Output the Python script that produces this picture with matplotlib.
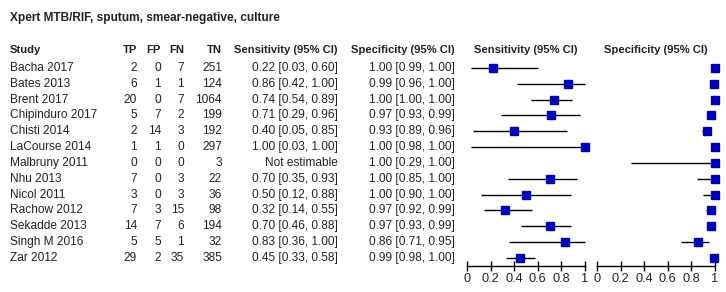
import matplotlib
matplotlib.use("Agg")
import matplotlib.pyplot as plt
import matplotlib.transforms as mtransforms
import numpy as np

title = "Xpert MTB/RIF, sputum, smear-negative, culture"
studies = ["Bacha 2017", "Bates 2013", "Brent 2017", "Chipinduro 2017", "Chisti 2014",
           "LaCourse 2014", "Malbruny 2011", "Nhu 2013", "Nicol 2011", "Rachow 2012",
           "Sekadde 2013", "Singh M 2016", "Zar 2012"]
tp = [2, 6, 20, 5, 2, 1, 0, 7, 3, 7, 14, 5, 29]
fp = [0, 1, 0, 7, 14, 1, 0, 0, 0, 3, 7, 5, 2]
fn = [7, 1, 7, 2, 3, 0, 0, 3, 3, 15, 6, 1, 35]
tn = [251, 124, 1064, 199, 192, 297, 3, 22, 36, 98, 194, 32, 385]
sens = [0.22, 0.86, 0.74, 0.71, 0.40, 1.00, np.nan, 0.70, 0.50, 0.32, 0.70, 0.83, 0.45]
sens_lo = [0.03, 0.42, 0.54, 0.29, 0.05, 0.03, np.nan, 0.35, 0.12, 0.14, 0.46, 0.36, 0.33]
sens_hi = [0.60, 1.00, 0.89, 0.96, 0.85, 1.00, np.nan, 0.93, 0.88, 0.55, 0.88, 1.00, 0.58]
spec = [1.00, 0.99, 1.00, 0.97, 0.93, 1.00, 1.00, 1.00, 1.00, 0.97, 0.97, 0.86, 0.99]
spec_lo = [0.99, 0.96, 1.00, 0.93, 0.89, 0.98, 0.29, 0.85, 0.90, 0.92, 0.93, 0.71, 0.98]
spec_hi = [1.00, 1.00, 1.00, 0.99, 0.96, 1.00, 1.00, 1.00, 1.00, 0.99, 0.99, 0.95, 1.00]
ticks = [0, 0.2, 0.4, 0.6, 0.8, 1]
tick_labels = ["0", "0.2", "0.4", "0.6", "0.8", "1"]

plt.rcParams['font.family'] = ['Liberation Sans', 'DejaVu Sans']
W, H = 726, 292
fig = plt.figure(figsize=(W / 100, H / 100), dpi=100)
fig.patch.set_facecolor("white")

FS = 8.6
HFS = 8.15
TXT = "#222222"
MARK = "#0000B4"

n = len(studies)
row_top_px, row_px = 68, 15.83
axis_px = 266
top_px = 58
ylo = (axis_px - row_top_px) / row_px
yhi = (top_px - row_top_px) / row_px

def mk_ax(x0px, x1px):
    ax = fig.add_axes([x0px / W, (H - axis_px) / H, (x1px - x0px) / W, (axis_px - top_px) / H])
    ax.set_xlim(0, 1)
    ax.set_ylim(ylo, yhi)
    for s in ["top", "right", "left"]:
        ax.spines[s].set_visible(False)
    ax.spines["bottom"].set_linewidth(1.0)
    ax.spines["bottom"].set_color("black")
    ax.set_yticks([])
    ax.set_xticks(ticks)
    ax.set_xticklabels(tick_labels, fontsize=9.2, color=TXT)
    ax.tick_params(axis="x", direction="inout", length=7, width=1.0, pad=1.5, colors="black", labelcolor=TXT)
    ax.patch.set_alpha(0)
    return ax

ax1 = mk_ax(467, 585)
ax2 = mk_ax(597, 715)

rows = np.arange(n)
for ax, est, lo, hi in [(ax1, sens, sens_lo, sens_hi), (ax2, spec, spec_lo, spec_hi)]:
    est = np.array(est); lo = np.array(lo); hi = np.array(hi)
    ok = ~np.isnan(est)
    ax.hlines(rows[ok], lo[ok], hi[ok], color="black", lw=1.0, clip_on=False)
    ax.plot(est[ok], rows[ok], ls="none", marker="s", ms=5.3, color=MARK, mec=MARK, clip_on=False, zorder=3)

tr = mtransforms.blended_transform_factory(fig.transFigure, ax1.transData)
hdr_y = (50 - row_top_px) / row_px

def fx(px):
    return px / W

fig.text(fx(10), 1 - 18 / H, title, fontsize=FS, fontweight="bold", color=TXT, va="center", ha="left")

headers = [("Study", 10, "left"), ("TP", 137, "right"), ("FP", 161, "right"), ("FN", 184, "right"),
           ("TN", 222, "right"), ("Sensitivity (95% CI)", 338, "right"),
           ("Specificity (95% CI)", 455, "right")]
for t, x, ha in headers:
    fig.text(fx(x), hdr_y, t, transform=tr, fontsize=HFS, fontweight="bold", color=TXT, ha=ha, va="center")
for ax in (ax1, ax2):
    ax.text(0.5, hdr_y, "Sensitivity (95% CI)" if ax is ax1 else "Specificity (95% CI)",
            transform=mtransforms.blended_transform_factory(ax.transAxes, ax.transData),
            fontsize=HFS, fontweight="bold", color=TXT, ha="center", va="center")

def fmt(e, l, h):
    if np.isnan(e):
        return "Not estimable"
    return f"{e:.2f} [{l:.2f}, {h:.2f}]"

for i in range(n):
    kw = dict(transform=tr, fontsize=FS, color=TXT, va="center")
    fig.text(fx(10), i, studies[i], ha="left", **kw)
    fig.text(fx(137), i, str(tp[i]), ha="right", **kw)
    fig.text(fx(161), i, str(fp[i]), ha="right", **kw)
    fig.text(fx(184), i, str(fn[i]), ha="right", **kw)
    fig.text(fx(222), i, str(tn[i]), ha="right", **kw)
    fig.text(fx(338), i, fmt(sens[i], sens_lo[i], sens_hi[i]), ha="right", **kw)
    fig.text(fx(455), i, fmt(spec[i], spec_lo[i], spec_hi[i]), ha="right", **kw)

fig.savefig("out.png", dpi=100, facecolor="white")
